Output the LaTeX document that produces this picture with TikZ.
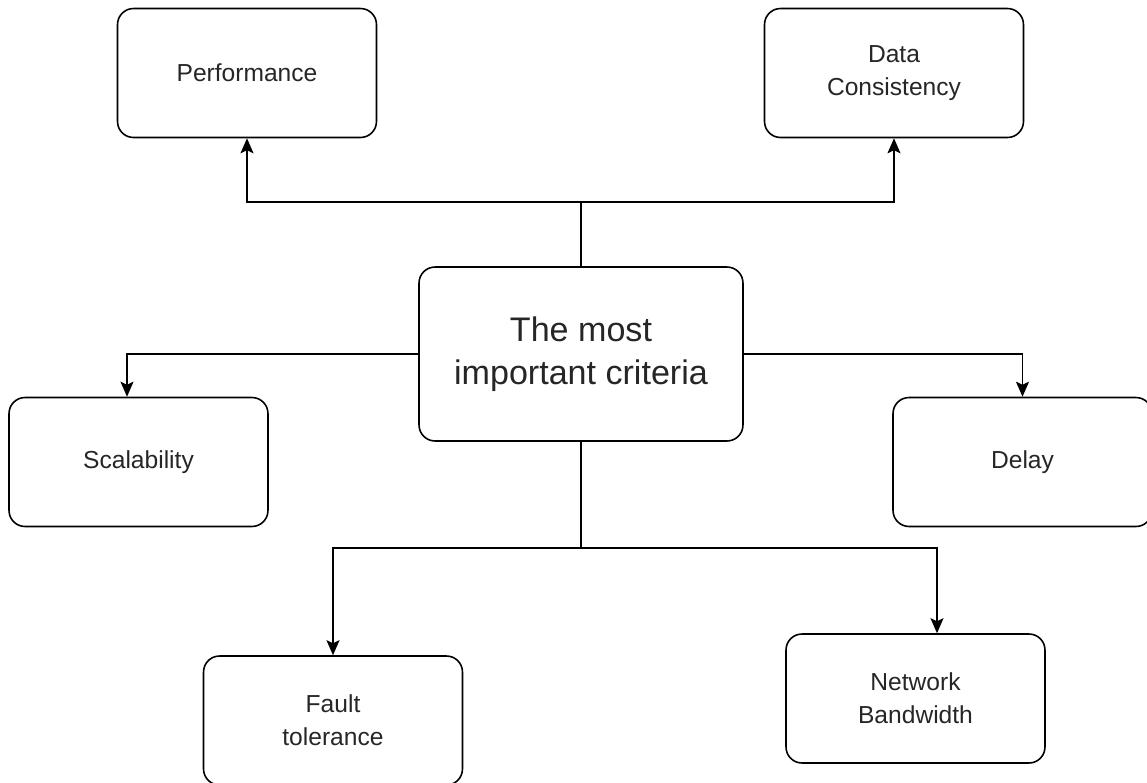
\documentclass[tikz,border=0pt]{standalone}
\usepackage{fontspec}
\setmainfont{Liberation Sans}
\usetikzlibrary{arrows.meta}
\tikzset{
  crit/.style={draw, line width=0.9pt, rounded corners=0.32cm, align=center,
    text=black!85, minimum width=5.18cm, minimum height=2.58cm,
    font=\fontsize{14}{18.8}\selectfont},
  mainbox/.style={crit, minimum width=6.48cm, minimum height=3.48cm,
    font=\fontsize{19.4}{24.5}\selectfont},
  link/.style={line width=0.9pt},
  arrow/.style={link, -{Stealth[length=0.3cm, width=0.26cm, inset=0.06cm]}}
}

\begin{document}
\begin{tikzpicture}[x=0.02cm, y=-0.02cm]
			%%%%% START %%%%%
			\useasboundingbox (0, 0) rectangle (1147, 782);
			
			\node[mainbox] (main) at (581, 354) {The most\\important criteria};
			
			\node[crit] (perf) at (247, 73) {Performance};
			\node[crit] (cons) at (894, 73) {Data\\Consistency};
			\node[crit] (scal) at (138.5, 462) {Scalability};
			\node[crit] (delay) at (1022.5, 462) {Delay};
			\node[crit] (fault) at (333, 720.5) {Fault\\tolerance};
			\node[crit] (band) at (915.5, 698.5) {Network\\Bandwidth};
			
			\coordinate (jtop) at (581, 202);
			\coordinate (jbot) at (581, 548);
			
			\draw[link] (main.north) -- (jtop);
			\draw[arrow] (jtop) -| (perf.south);
			\draw[arrow] (jtop) -| (cons.south);
			
			\draw[arrow] (main.west) -| ([xshift=-0.23cm]scal.north);
			\draw[arrow] (main.east) -| (delay.north);
			
			\draw[link] (main.south) -- (jbot);
			\draw[arrow] (jbot) -| (fault.north);
			\draw[arrow] (jbot) -| ([xshift=0.43cm]band.north);
			
			%%%%% END %%%%%
\end{tikzpicture}
\end{document}
